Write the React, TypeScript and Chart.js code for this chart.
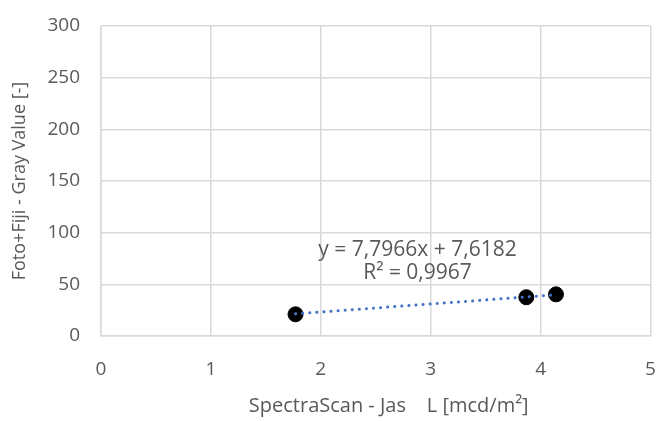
import React, { useEffect, useRef } from "react";
import { Chart, registerables } from "chart.js";

Chart.register(...registerables);

const xValues = [1.77, 3.87, 4.14];
const yValues = [21, 37.5, 40.3];
const slope = 7.7966;
const intercept = 7.6182;
const equationText = "y = 7,7966x + 7,6182";
const r2Text = "R² = 0,9967";
const xTitle = "     SpectraScan - Jas    L [mcd/m²]";
const yTitle = "Foto+Fiji - Gray Value [-]";

const FONT = "'Open Sans', 'Liberation Sans', sans-serif";
const TEXT = "#595959";
const GRID = "#d9d9d9";

export default function App() {
  const ref = useRef<HTMLCanvasElement | null>(null);
  useEffect(() => {
    document.body.style.margin = "0";
    const ctx = ref.current!.getContext("2d")!;
    const xmin = Math.min(...xValues);
    const xmax = Math.max(...xValues);
    const trend = [
      { x: xmin, y: slope * xmin + intercept },
      { x: xmax, y: slope * xmax + intercept },
    ];
    const labelPlugin = {
      id: "eqLabel",
      afterDatasetsDraw(chart: any) {
        const c = chart.ctx;
        const xs = chart.scales.x;
        const ys = chart.scales.y;
        c.save();
        c.fillStyle = TEXT;
        c.font = `21px ${FONT}`;
        c.textAlign = "center";
        c.textBaseline = "middle";
        c.fillText(equationText, xs.getPixelForValue(2.88), ys.getPixelForValue(83));
        c.fillText(r2Text, xs.getPixelForValue(2.88), ys.getPixelForValue(60.5));
        c.restore();
      },
    };
    const chart = new Chart(ctx, {
      type: "scatter",
      data: {
        datasets: [
          {
            type: "line",
            data: trend,
            borderColor: "#4472c4",
            borderWidth: 3,
            borderDash: [0.1, 7],
            borderCapStyle: "round",
            pointRadius: 0,
            fill: false,
          } as any,
          {
            data: xValues.map((x, i) => ({ x, y: yValues[i] })),
            backgroundColor: "#000000",
            borderColor: "#000000",
            pointRadius: 7.5,
          },
        ],
      },
      options: {
        animation: false,
        responsive: false,
        maintainAspectRatio: false,
        layout: { padding: { top: 26, right: 8, left: 0, bottom: 0 } },
        plugins: { legend: { display: false }, tooltip: { enabled: false } },
        scales: {
          x: {
            type: "linear",
            min: 0,
            max: 5,
            ticks: { stepSize: 1, color: TEXT, font: { family: FONT, size: 19 }, padding: 22 },
            grid: { color: GRID, lineWidth: 1.5, drawTicks: false },
            border: { color: GRID, width: 1.5 },
            title: { display: true, text: xTitle, color: TEXT, font: { family: FONT, size: 20 }, padding: { top: 4, bottom: 3 } },
            afterFit(scale: any) {
              scale.height = 85;
              scale.paddingRight = 0;
              scale.paddingLeft = 0;
            },
          },
          y: {
            min: 0,
            max: 300,
            ticks: { stepSize: 50, color: TEXT, font: { family: FONT, size: 19 }, padding: 21 },
            grid: { color: GRID, lineWidth: 1.5, drawTicks: false },
            border: { color: GRID, width: 1.5 },
            title: { display: true, text: yTitle, color: TEXT, font: { family: FONT, size: 18 }, padding: { top: 9, bottom: 0 } },
            afterFit(scale: any) {
              scale.width = 101;
              scale.paddingTop = 0;
              scale.paddingBottom = 0;
            },
          },
        },
      },
      plugins: [labelPlugin],
    });
    return () => chart.destroy();
  }, []);
  return (
    <div style={{ width: 659, height: 421, background: "#fff" }}>
      <canvas ref={ref} width={659} height={421} />
    </div>
  );
}
